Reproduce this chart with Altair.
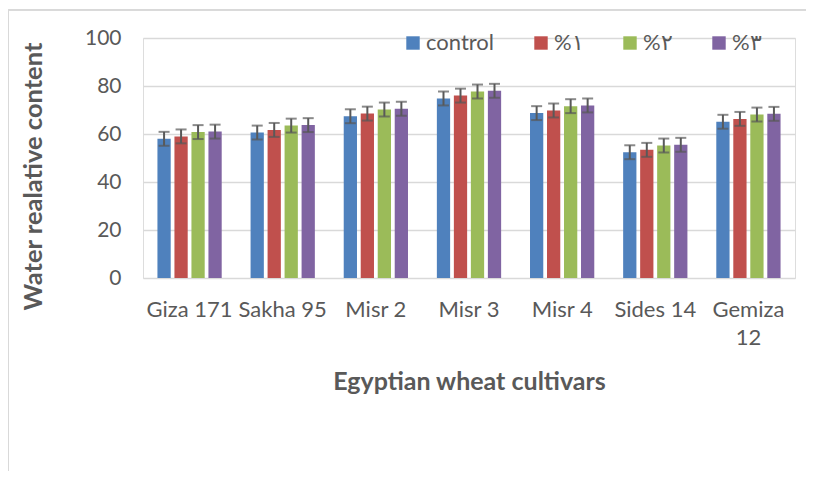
import altair as alt
import pandas as pd

cultivars = ["Giza 171", "Sakha 95", "Misr 2", "Misr 3", "Misr 4", "Sides 14", "Gemiza 12"]
series = ["control", "%١", "%٢", "%٣"]
colors = ["#4F81BD", "#C0504D", "#9BBB59", "#8064A2"]

control = [58.0, 60.6, 67.4, 74.8, 68.7, 52.4, 65.1]
t1 = [59.0, 61.7, 68.5, 76.0, 69.8, 53.4, 66.3]
t2 = [60.8, 63.5, 70.2, 77.7, 71.6, 55.2, 68.1]
t3 = [61.0, 63.7, 70.5, 78.0, 71.9, 55.5, 68.4]
errors = [2.9, 2.9, 2.9, 2.9]

rows = []
for s, vals, err in zip(series, [control, t1, t2, t3], errors):
    for c, v in zip(cultivars, vals):
        rows.append({"cultivar": c, "series": s, "value": v, "lo": v - err, "hi": v + err})
df = pd.DataFrame(rows)

W, H = 652, 240
FONT = "Lato"
GREY = "#595959"

xenc = alt.X("cultivar:N", sort=cultivars,
             scale=alt.Scale(paddingInner=0.31, paddingOuter=0.155),
             axis=alt.Axis(title="Egyptian wheat cultivars", labelAngle=0, ticks=False, domain=False,
                           labelFontSize=22, labelColor=GREY, labelFont=FONT, labelPadding=21,
                           labelLineHeight=28,
                           labelExpr="datum.label == 'Gemiza 12' ? ['Gemiza', '12'] : datum.label",
                           titleFontSize=25, titleFont=FONT, titleColor=GREY, titleFontWeight="bold",
                           titleY=103, titleBaseline="middle"))
xoff = alt.XOffset("series:N", sort=series, scale=alt.Scale(paddingInner=0.22, paddingOuter=0))
color = alt.Color("series:N", sort=series,
                  scale=alt.Scale(domain=series, range=colors),
                  legend=alt.Legend(title=None, orient="none", direction="horizontal",
                                    legendX=259, legendY=-6, symbolType="square", symbolSize=180,
                                    symbolStrokeWidth=0, labelFontSize=22, labelFont=FONT,
                                    labelColor=GREY, columnPadding=35, labelOffset=2))

bars = alt.Chart(df).mark_bar().encode(
    x=xenc, xOffset=xoff,
    y=alt.Y("value:Q", scale=alt.Scale(domain=[0, 100]),
            axis=alt.Axis(title="Water realative content", values=[0, 20, 40, 60, 80, 100],
                          ticks=False, domain=False, gridColor="#D9D9D9", gridWidth=1.5,
                          labelFontSize=21, labelColor=GREY, labelFont=FONT, labelPadding=22,
                          titleFontSize=25.5, titleFont=FONT, titleColor=GREY, titleFontWeight="bold",
                          titleX=-110, titleY=138, titleBaseline="middle")),
    color=color,
)

stems = alt.Chart(df).mark_rule(color=GREY, strokeWidth=2).encode(
    x=alt.X("cultivar:N", sort=cultivars), xOffset=xoff, y="lo:Q", y2="hi:Q")
caps_hi = alt.Chart(df).mark_tick(color=GREY, thickness=2, size=11).encode(
    x=alt.X("cultivar:N", sort=cultivars), xOffset=xoff, y="hi:Q")
caps_lo = alt.Chart(df).mark_tick(color=GREY, thickness=2, size=11).encode(
    x=alt.X("cultivar:N", sort=cultivars), xOffset=xoff, y="lo:Q")

border_left = alt.Chart(df).mark_rule(color="#D9D9D9", strokeWidth=1, clip=False).encode(
    x=alt.value(-134.5), y=alt.value(-28), y2=alt.value(500))
border_top = alt.Chart(df).mark_rule(color="#D9D9D9", strokeWidth=1, clip=False).encode(
    x=alt.value(-134.5), x2=alt.value(720), y=alt.value(-28))

chart = alt.layer(border_left, border_top, bars, stems, caps_hi, caps_lo).properties(
    width=W, height=H,
    autosize=alt.AutoSizeParams(type="none"),
    padding={"left": 135, "top": 30, "right": 11, "bottom": 193},
).configure_view(stroke=None).configure(background="white")

chart.save("out.html", embed_options={"renderer": "svg", "actions": False})
